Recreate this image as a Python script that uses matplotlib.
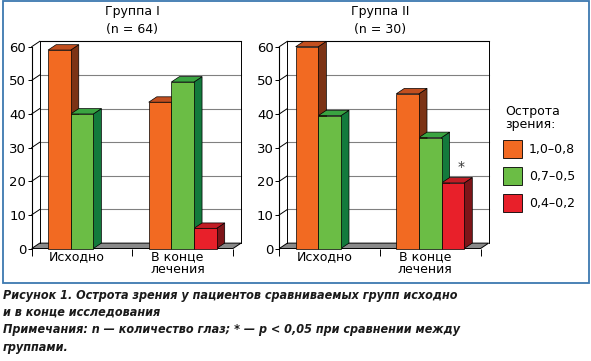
import matplotlib.pyplot as plt
from matplotlib.patches import Rectangle, Polygon
import numpy as np

# данные
categories = ['Исходно', 'В конце\nлечения']
series_labels = ['1,0–0,8', '0,7–0,5', '0,4–0,2']
group1 = [[59, 40, 0], [43.5, 49.5, 6]]     # Группа I (n = 64)
group2 = [[60, 39.5, 0], [46, 33, 19.5]]    # Группа II (n = 30)
titles = ['Группа I\n(n = 64)', 'Группа II\n(n = 30)']
yticks = [0, 10, 20, 30, 40, 50, 60]

front = ['#f26a22', '#6bbd45', '#e8202a']
side = ['#7c3315', '#137a3c', '#7e1519']
top = ['#c24f1f', '#3aa441', '#c11d25']

W, H = 591, 361
fig = plt.figure(figsize=(W / 100, H / 100), dpi=100)
plt.rcParams['font.family'] = 'DejaVu Sans'

DX = 0.08   # глубина по x (в долях категории)
DY = 1.6    # глубина по y


def panel(x0, data, title, star=False):
    ax = fig.add_axes([x0 / W, (H - 248.5) / H, 201.3 / W, 201.8 / H])
    ax.set_xlim(0, 2)
    ax.set_ylim(0, 60)
    for s in ax.spines.values():
        s.set_visible(False)
    ax.patch.set_alpha(0)
    # пол
    ax.add_patch(Polygon([(0, 0), (2, 0), (2 + DX, DY), (DX, DY)], closed=True,
                         facecolor='#8a8a8a', edgecolor='black', lw=0.7, clip_on=False))
    # задняя стенка и сетка
    for v in yticks[1:]:
        c = 'black' if v == 60 else '#808080'
        ax.plot([DX, 2 + DX], [v + DY, v + DY], color=c, lw=0.8, clip_on=False)
        ax.plot([0, DX], [v, v + DY], color='black', lw=0.7, clip_on=False)
    ax.plot([DX, DX], [DY, 60 + DY], color='black', lw=0.7, clip_on=False)
    ax.plot([2 + DX, 2 + DX], [DY, 60 + DY], color='black', lw=0.7, clip_on=False)
    ax.plot([0, 0], [0, 60], color='black', lw=0.8, clip_on=False)
    # столбики
    w = 0.225
    for i, vals in enumerate(data):
        for j, v in enumerate(vals):
            if v <= 0:
                continue
            x = i + 0.5 + (j - 1.5) * w
            ax.add_patch(Polygon([(x + w, 0), (x + w + DX, DY), (x + w + DX, v + DY), (x + w, v)],
                                 closed=True, facecolor=side[j], edgecolor='black', lw=0.5, clip_on=False, zorder=3))
            ax.add_patch(Polygon([(x, v), (x + w, v), (x + w + DX, v + DY), (x + DX, v + DY)],
                                 closed=True, facecolor=top[j], edgecolor='black', lw=0.5, clip_on=False, zorder=3))
            ax.add_patch(Rectangle((x, 0), w, v, facecolor=front[j], edgecolor='black', lw=0.5,
                                   clip_on=False, zorder=4))
            if star and i == 1 and j == 2:
                ax.text(x + w / 2 + DX, v + DY + 1.0, '*', ha='center', va='bottom', fontsize=10,
                        color='#333333')
    ax.set_yticks(yticks)
    ax.set_yticklabels([str(t) for t in yticks], fontsize=9.5)
    ax.set_xticks([0, 1, 2])
    ax.set_xticklabels([])
    ax.set_xticks([0.45, 1.45], minor=True)
    ax.set_xticklabels(categories, minor=True, fontsize=9, linespacing=0.95, va='top')
    ax.tick_params(axis='y', length=3, width=0.7, pad=1)
    ax.tick_params(axis='x', which='major', length=5, width=0.7, direction='out')
    ax.tick_params(axis='x', which='minor', length=0, pad=1.5)
    ax.set_title(title, fontsize=9, linespacing=1.5, pad=10)
    return ax


panel(31.7, group1, titles[0])
panel(279.3, group2, titles[1], star=True)

# легенда
fig.text(505 / W, 1 - 118 / H, 'Острота\nзрения:', fontsize=9, va='center', ha='left', linespacing=1.0)
for k, lab in enumerate(series_labels):
    yy = 140 + k * 27
    fig.patches.append(Rectangle((503 / W, 1 - (yy + 18) / H), 19 / W, 18 / H, transform=fig.transFigure,
                                 facecolor=front[k], edgecolor='black', lw=0.6))
    fig.text(529 / W, 1 - (yy + 9.5) / H, lab, fontsize=9, va='center', ha='left')

# рамка
fig.patches.append(Rectangle((2.5 / W, 1 - 283 / H), 586 / W, 282 / H, transform=fig.transFigure,
                             facecolor='none', edgecolor='#3d78b0', lw=1.3))

# подпись
cap = dict(family='DejaVu Sans', fontstretch='condensed', fontweight='bold', style='italic',
           fontsize=9.0, ha='left', va='center', color='#1a1a1a')
fig.text(3 / W, 1 - 296 / H, 'Рисунок 1. Острота зрения у пациентов сравниваемых групп исходно', **cap)
fig.text(3 / W, 1 - 312 / H, 'и в конце исследования', **cap)
fig.text(3 / W, 1 - 330 / H, 'Примечания: n — количество глаз; * — p < 0,05 при сравнении между', **cap)
fig.text(3 / W, 1 - 347 / H, 'группами.', **cap)

fig.savefig('out.png', dpi=100)
